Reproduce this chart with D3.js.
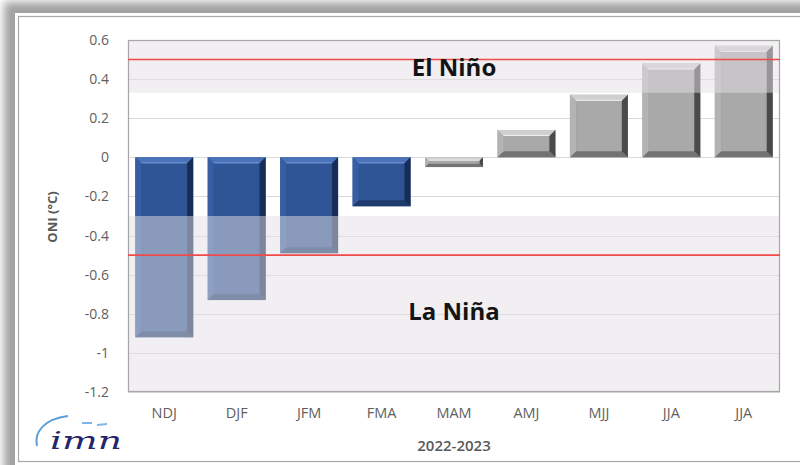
<!DOCTYPE html>
<html>
<head>
<meta charset="utf-8">
<script src="https://cdn.jsdelivr.net/npm/d3@7"></script>
<style>
  html, body { margin: 0; padding: 0; background: #ffffff; }
  svg { display: block; }
</style>
</head>
<body>
<svg id="chart" width="800" height="465"></svg>
<script>
// ---- data ----
const categories = ["NDJ", "DJF", "JFM", "FMA", "MAM", "AMJ", "MJJ", "JJA", "JJA"];
const oniValues = [-0.92, -0.73, -0.49, -0.25, -0.05, 0.14, 0.32, 0.48, 0.57];
const phases = ["nina", "nina", "nina", "nina", "neutral", "neutral", "neutral", "neutral", "neutral"];
const yTicks = [0.6, 0.4, 0.2, 0, -0.2, -0.4, -0.6, -0.8, -1, -1.2];
const thresholds = [0.5, -0.5];
const shadedBands = [[0.33, 0.6], [-1.2, -0.3]];
const zoneLabels = [{ text: "El Niño", value: 0.465 }, { text: "La Niña", value: -0.785 }];
const xTitle = "2022-2023";
const yTitle = "ONI (°C)";
const logoText = "imn";

// ---- layout ----
const svg = d3.select("#chart");
const plot = { left: 128, right: 780, top: 40, bottom: 392 };
const font = "'Open Sans', 'Liberation Sans', sans-serif";

const defs = svg.append("defs");
const blur = defs.append("filter").attr("id", "shadow").attr("x", "-10%").attr("y", "-10%").attr("width", "120%").attr("height", "120%");
blur.append("feGaussianBlur").attr("stdDeviation", 4);

// frame
svg.append("rect").attr("x", 4).attr("y", 2).attr("width", 830).attr("height", 490)
  .attr("fill", "#a2a2a2").attr("filter", "url(#shadow)");
svg.append("rect").attr("x", 15).attr("y", 13).attr("width", 800).attr("height", 460).attr("fill", "#ffffff");
svg.append("rect").attr("x", 18.5).attr("y", 16.5).attr("width", 800).attr("height", 445)
  .attr("fill", "#ffffff").attr("stroke", "#a8a8a8").attr("stroke-width", 1.2);

// scales
const x = d3.scaleBand().domain(d3.range(categories.length))
  .range([plot.left, plot.right]).paddingInner(0.2).paddingOuter(0.1);
const y = d3.scaleLinear().domain([-1.2, 0.6]).range([plot.bottom, plot.top]);

// plot background
svg.append("rect").attr("x", plot.left).attr("y", plot.top)
  .attr("width", plot.right - plot.left).attr("height", plot.bottom - plot.top).attr("fill", "#ffffff");

// gridlines
svg.append("g").selectAll("line").data(yTicks).join("line")
  .attr("x1", plot.left).attr("x2", plot.right)
  .attr("y1", d => Math.round(y(d)) + 0.5).attr("y2", d => Math.round(y(d)) + 0.5)
  .attr("stroke", "#d9d9d9").attr("stroke-width", 1);

// gradients for bars
function grad(id, stops) {
  const g = defs.append("linearGradient").attr("id", id).attr("x1", 0).attr("x2", 1).attr("y1", 0).attr("y2", 0);
  stops.forEach(s => g.append("stop").attr("offset", s[0]).attr("stop-color", s[1]));
}
grad("blueBody", [[0, "#2b4f8e"], [0.15, "#2f5597"], [0.85, "#2f5597"], [1, "#24467f"]]);
grad("grayBody", [[0, "#9e9e9e"], [0.15, "#a9a9a9"], [0.85, "#a9a9a9"], [1, "#999999"]]);

const styles = {
  nina: { body: "url(#blueBody)", top: "#4a72b8", topLine: "#7a9ad6", left: "#3a62a8", right: "#172d57", bottom: "#1d3a6d" },
  neutral: { body: "url(#grayBody)", top: "#cfcfcf", topLine: "#efefef", left: "#b8b8b8", right: "#4a4a4a", bottom: "#737373" }
};

const bars = svg.append("g");
oniValues.forEach((v, i) => {
  const st = styles[phases[i]];
  const x0 = x(i), w = x.bandwidth(), x1 = x0 + w;
  const yt = y(Math.max(v, 0)), yb = y(Math.min(v, 0));
  const h = yb - yt;
  const b = Math.min(6, h / 3);
  const g = bars.append("g");
  g.append("rect").attr("x", x0).attr("y", yt).attr("width", w).attr("height", h).attr("fill", st.body);
  g.append("polygon").attr("points", [[x0, yt], [x1, yt], [x1 - b, yt + b], [x0 + b, yt + b]].join(" ")).attr("fill", st.top);
  g.append("line").attr("x1", x0 + b).attr("x2", x1 - b).attr("y1", yt + b - 0.5).attr("y2", yt + b - 0.5)
    .attr("stroke", st.topLine).attr("stroke-width", 1);
  g.append("polygon").attr("points", [[x0, yb], [x1, yb], [x1 - b, yb - b], [x0 + b, yb - b]].join(" ")).attr("fill", st.bottom);
  g.append("polygon").attr("points", [[x0, yt], [x0 + b, yt + b], [x0 + b, yb - b], [x0, yb]].join(" ")).attr("fill", st.left).attr("opacity", 0.8);
  g.append("polygon").attr("points", [[x1, yt], [x1 - b, yt + b], [x1 - b, yb - b], [x1, yb]].join(" ")).attr("fill", st.right);
});

// translucent shaded bands
svg.append("g").selectAll("rect").data(shadedBands).join("rect")
  .attr("x", plot.left).attr("width", plot.right - plot.left)
  .attr("y", d => y(d[1])).attr("height", d => y(d[0]) - y(d[1]))
  .attr("fill", "rgb(228,224,227)").attr("opacity", 0.5);

// plot border
svg.append("rect").attr("x", plot.left + 0.5).attr("y", plot.top + 0.5)
  .attr("width", plot.right - plot.left - 1).attr("height", plot.bottom - plot.top - 1)
  .attr("fill", "none").attr("stroke", "#a6a6a6").attr("stroke-width", 1.2);

// threshold lines
svg.append("g").selectAll("line").data(thresholds).join("line")
  .attr("x1", plot.left).attr("x2", plot.right)
  .attr("y1", d => y(d)).attr("y2", d => y(d))
  .attr("stroke", "#f04a4a").attr("stroke-width", 1.6);

// y axis
const yAxis = d3.axisLeft(y).tickValues(yTicks).tickSize(0).tickPadding(19)
  .tickFormat(d => String(+d.toFixed(1)));
const ya = svg.append("g").attr("transform", `translate(${plot.left},0)`).call(yAxis);
ya.select(".domain").remove();
ya.selectAll("text").attr("font-family", font).attr("font-size", 14).attr("fill", "#5f5f5f");

// x axis
const xAxis = d3.axisBottom(x).tickSize(0).tickPadding(16).tickFormat(i => categories[i]);
const xa = svg.append("g").attr("transform", `translate(0,${plot.bottom})`).call(xAxis);
xa.select(".domain").remove();
xa.selectAll("text").attr("font-family", font).attr("font-size", 14.5).attr("fill", "#5f5f5f");

// titles
svg.append("text").attr("x", (plot.left + plot.right) / 2).attr("y", 451)
  .attr("text-anchor", "middle").attr("font-family", font).attr("font-size", 15).attr("font-weight", 600)
  .attr("fill", "#595959").text(xTitle);
svg.append("text").attr("transform", "translate(57,217) rotate(-90)")
  .attr("text-anchor", "middle").attr("font-family", font).attr("font-size", 13).attr("font-weight", 700)
  .attr("fill", "#595959").text(yTitle);

// zone labels
svg.append("g").selectAll("text").data(zoneLabels).join("text")
  .attr("x", (plot.left + plot.right) / 2).attr("y", d => y(d.value))
  .attr("text-anchor", "middle").attr("dominant-baseline", "central")
  .attr("font-family", font).attr("font-size", 24).attr("font-weight", 700)
  .attr("fill", "#141414").text(d => d.text);

// logo
const logo = svg.append("g");
logo.append("path").attr("d", "M37,446 C34,432 44,419 68,416")
  .attr("fill", "none").attr("stroke", "#5d9fd8").attr("stroke-width", 2);
logo.append("path").attr("d", "M82,423 L92,423 M97,425 L107,424")
  .attr("fill", "none").attr("stroke", "#7fb5e6").attr("stroke-width", 1.8);
logo.append("text").attr("x", 50).attr("y", 449).attr("textLength", 72).attr("lengthAdjust", "spacingAndGlyphs")
  .attr("font-family", "'DejaVu Serif', serif").attr("font-style", "italic").attr("font-size", 24)
  .attr("fill", "#25256b").text(logoText);
</script>
</body>
</html>
